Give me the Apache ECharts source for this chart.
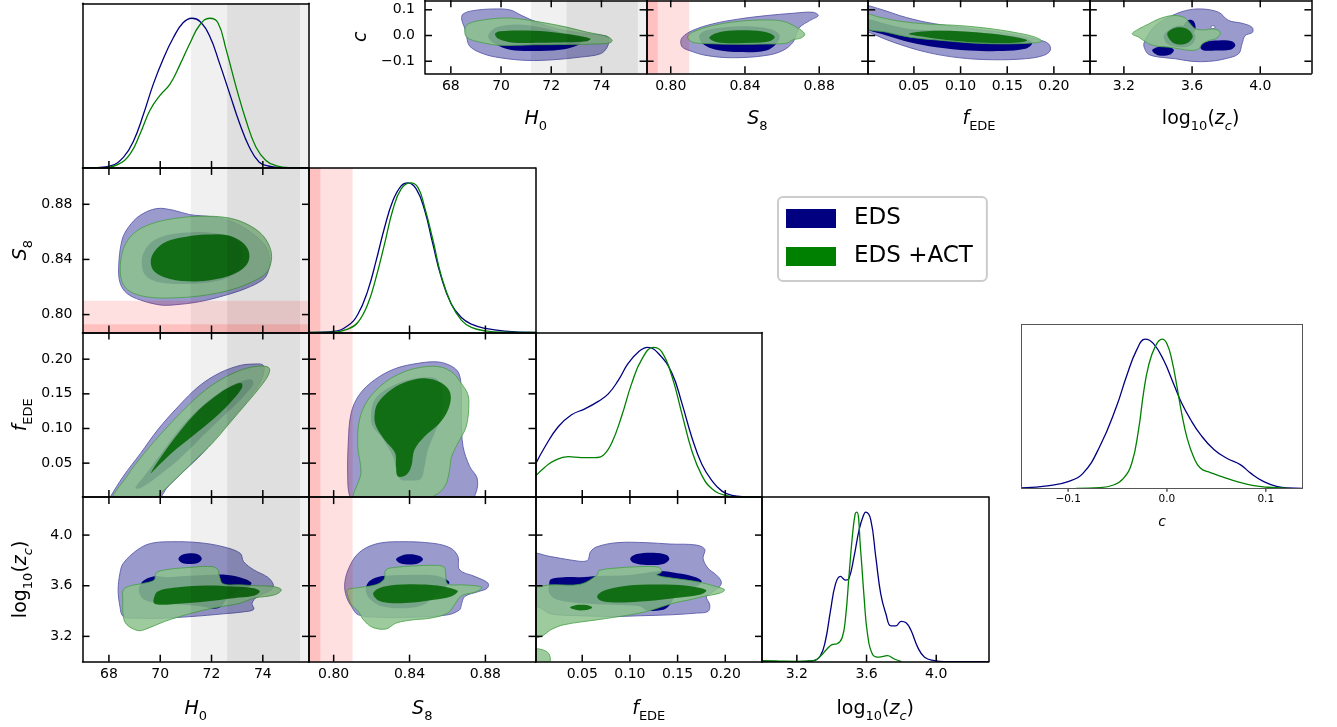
<!DOCTYPE html>
<html><head><meta charset="utf-8">
<script src="https://cdn.jsdelivr.net/npm/echarts@6/dist/echarts.min.js"></script>
<style>html,body{margin:0;padding:0;background:#fff}#c{width:1337px;height:727px}</style>
</head><body><div id="c"></div>
<script>
// ---------- axes ----------
const H0_RANGE = [66.97, 75.8];
const S8_RANGE = [0.787, 0.9064];
const FEDE_RANGE = [0.001, 0.2385];
const LOGZC_RANGE = [3.0, 4.30];
const C_RANGE = [-0.147, 0.137];
const H0_TICKS = [68, 70, 72, 74];
const S8_TICKS = [0.80, 0.84, 0.88];
const FEDE_TICKS = [0.05, 0.10, 0.15, 0.20];
const LOGZC_TICKS = [3.2, 3.6, 4.0];
const C_TICKS = [-0.1, 0.0, 0.1];
const H0_BAND_1S = [72.61, 75.45];
const H0_BAND_2S = [71.19, 76.87];
const S8_BAND_1S = [0.759, 0.793];
const S8_BAND_2S = [0.742, 0.810];
const SERIES_NAMES = ['EDS', 'EDS +ACT'];

const H0_EDS_1D = [[66.97,0],[67.54,0.002],[68.06,0.013],[68.57,0.072],[68.96,0.18],[69.35,0.36],[69.73,0.56],[70.12,0.73],[70.51,0.87],[70.89,0.97],[71.24,1.0],[71.54,0.98],[71.93,0.88],[72.31,0.70],[72.70,0.50],[73.09,0.30],[73.47,0.14],[73.86,0.038],[74.25,0.011],[74.76,0.002],[75.8,0]];
const H0_ACT_1D = [[66.97,0],[67.8,0.002],[68.32,0.02],[68.83,0.094],[69.22,0.23],[69.6,0.385],[69.99,0.485],[70.38,0.56],[70.77,0.69],[71.15,0.83],[71.54,0.955],[71.93,1.0],[72.25,0.97],[72.57,0.79],[72.96,0.54],[73.34,0.32],[73.73,0.14],[74.12,0.05],[74.5,0.016],[75.02,0.002],[75.8,0]];
const S8_EDS_1D = [[0.787,0],[0.7898,0.001],[0.80,0.007],[0.8074,0.045],[0.8127,0.12],[0.818,0.28],[0.8224,0.48],[0.8268,0.70],[0.8312,0.88],[0.8356,0.98],[0.8391,1.0],[0.8435,0.96],[0.8479,0.82],[0.8523,0.59],[0.8567,0.37],[0.862,0.19],[0.8673,0.10],[0.8726,0.056],[0.88,0.027],[0.8902,0.009],[0.9064,0]];
const S8_ACT_1D = [[0.787,0],[0.80,0.002],[0.8074,0.022],[0.8127,0.067],[0.818,0.19],[0.8224,0.37],[0.8268,0.59],[0.8312,0.82],[0.8356,0.96],[0.8405,1.0],[0.8444,0.97],[0.8479,0.84],[0.8523,0.62],[0.8567,0.38],[0.862,0.19],[0.8673,0.083],[0.8726,0.034],[0.88,0.011],[0.8902,0.002],[0.9064,0]];
const FEDE_EDS_1D = [[0.001,0.22],[0.0108,0.335],[0.0248,0.47],[0.0388,0.55],[0.0528,0.59],[0.0668,0.64],[0.0773,0.69],[0.0878,0.78],[0.0983,0.895],[0.1089,0.97],[0.1187,1.0],[0.1299,0.96],[0.1439,0.83],[0.1544,0.63],[0.1649,0.40],[0.1754,0.22],[0.186,0.11],[0.1965,0.04],[0.207,0.011],[0.221,0.002],[0.2385,0]];
const FEDE_ACT_1D = [[0.001,0.14],[0.0108,0.20],[0.0213,0.246],[0.0353,0.27],[0.0493,0.264],[0.0633,0.264],[0.0721,0.28],[0.0808,0.36],[0.0913,0.54],[0.1019,0.76],[0.1124,0.92],[0.1246,1.0],[0.1334,0.97],[0.1439,0.81],[0.1544,0.56],[0.1649,0.31],[0.1754,0.145],[0.186,0.056],[0.20,0.011],[0.214,0],[0.2385,0]];
const LOGZC_EDS_1D = [[3.0,0],[3.2,0],[3.296,0.007],[3.335,0.04],[3.364,0.14],[3.393,0.34],[3.422,0.52],[3.45,0.57],[3.48,0.545],[3.499,0.555],[3.528,0.70],[3.557,0.88],[3.58,0.97],[3.595,1.0],[3.624,0.95],[3.653,0.70],[3.682,0.45],[3.711,0.32],[3.74,0.24],[3.769,0.24],[3.798,0.27],[3.827,0.26],[3.855,0.21],[3.894,0.096],[3.933,0.03],[3.99,0.007],[4.048,0],[4.3,0]];
const LOGZC_ACT_1D = [[3.0,0.007],[3.1,0.004],[3.2,0.002],[3.296,0.007],[3.335,0.036],[3.373,0.085],[3.402,0.114],[3.431,0.12],[3.46,0.16],[3.48,0.30],[3.499,0.57],[3.518,0.83],[3.535,0.99],[3.545,1.0],[3.566,0.745],[3.586,0.43],[3.605,0.19],[3.634,0.05],[3.672,0.03],[3.72,0.04],[3.759,0.018],[3.80,0]];
const C_EDS_1D = [[-0.147,0.003],[-0.119,0.018],[-0.1,0.045],[-0.085,0.10],[-0.068,0.28],[-0.051,0.55],[-0.041,0.75],[-0.0305,0.93],[-0.022,1.0],[-0.0136,0.97],[-0.0034,0.86],[0.0068,0.70],[0.015,0.57],[0.024,0.46],[0.034,0.36],[0.0475,0.26],[0.061,0.20],[0.0746,0.157],[0.085,0.10],[0.098,0.045],[0.112,0.011],[0.122,0.002],[0.137,0]];
const C_ACT_1D = [[-0.092,0],[-0.068,0.004],[-0.054,0.022],[-0.044,0.067],[-0.0356,0.168],[-0.0288,0.39],[-0.0237,0.64],[-0.0187,0.82],[-0.0119,0.95],[-0.005,1.0],[0,0.97],[0.005,0.86],[0.0102,0.68],[0.015,0.50],[0.0203,0.34],[0.027,0.21],[0.034,0.134],[0.044,0.105],[0.0576,0.074],[0.071,0.045],[0.088,0.018],[0.102,0.007],[0.122,0]];

const H0S8_EDS_2 = [[68.38,0.8347],[68.51,0.854],[68.77,0.8636],[69.22,0.872],[69.86,0.8769],[70.51,0.8757],[71.15,0.8725],[72.05,0.8708],[72.83,0.8672],[73.60,0.8588],[74.12,0.8492],[74.27,0.8395],[74.18,0.8299],[73.99,0.8251],[73.34,0.819],[72.57,0.8142],[71.54,0.8094],[70.51,0.807],[69.99,0.807],[69.22,0.8106],[68.70,0.8154],[68.44,0.8227]];
const H0S8_EDS_1 = [[69.28,0.8371],[69.37,0.8455],[69.73,0.8535],[70.38,0.8581],[71.28,0.8598],[72.18,0.8588],[72.83,0.8559],[73.15,0.8492],[73.19,0.8407],[73.02,0.8323],[72.57,0.8263],[71.80,0.8231],[70.77,0.8222],[69.86,0.8239],[69.41,0.8287]];
const H0S8_ACT_2 = [[68.44,0.8323],[68.57,0.848],[68.96,0.8588],[69.60,0.8655],[70.51,0.8696],[71.54,0.8713],[72.57,0.8704],[73.34,0.866],[73.99,0.8576],[74.31,0.8467],[74.31,0.8371],[74.12,0.8299],[73.60,0.8239],[72.83,0.8183],[71.80,0.8142],[70.77,0.8123],[69.73,0.8123],[68.96,0.8154],[68.57,0.8214]];
const H0S8_ACT_1 = [[69.63,0.8383],[69.78,0.8460],[70.25,0.8530],[71.02,0.8565],[71.80,0.8580],[72.57,0.8578],[73.09,0.8540],[73.41,0.8478],[73.47,0.8407],[73.30,0.8347],[72.83,0.8290],[72.05,0.8252],[71.28,0.8240],[70.38,0.8258],[69.78,0.8311]];
const H0F_EDS_2 = [[68.05,0.001],[68.56,0.031],[69.23,0.064],[69.90,0.098],[70.71,0.132],[71.51,0.161],[72.31,0.180],[73.12,0.191],[73.65,0.193],[73.99,0.192],[74.05,0.185],[73.92,0.168],[73.52,0.146],[72.98,0.122],[72.31,0.093],[71.64,0.064],[70.97,0.040],[70.30,0.016],[69.83,-0.004],[68.0,-0.004]];
const H0F_EDS_1 = [[69.03,0.014],[69.37,0.031],[70.04,0.064],[70.84,0.103],[71.78,0.137],[72.58,0.158],[73.25,0.169],[73.58,0.170],[73.62,0.163],[73.12,0.141],[72.31,0.1125],[71.51,0.0837],[70.71,0.0548],[69.90,0.0308],[69.23,0.014]];
const H0F_ACT_2 = [[68.16,-0.004],[68.70,0.031],[69.37,0.064],[70.17,0.098],[70.97,0.129],[71.78,0.156],[72.58,0.175],[73.38,0.187],[73.99,0.190],[74.25,0.187],[74.21,0.177],[73.92,0.161],[73.38,0.137],[72.71,0.108],[72.04,0.079],[71.37,0.055],[70.71,0.031],[70.04,0.007],[69.77,-0.004]];
const H0F_ACT_1 = [[69.63,0.0356],[70.04,0.0596],[70.71,0.0933],[71.51,0.1269],[72.31,0.151],[72.98,0.1644],[73.18,0.165],[73.18,0.158],[72.71,0.1365],[72.04,0.1125],[71.24,0.0885],[70.44,0.0644],[69.83,0.0428]];
const S8F_EDS_2 = [[0.8083,0.004],[0.8074,0.031],[0.8077,0.079],[0.8092,0.122],[0.8136,0.149],[0.8215,0.170],[0.8321,0.186],[0.8444,0.194],[0.8550,0.196],[0.8620,0.190],[0.8659,0.180],[0.8673,0.156],[0.8673,0.1125],[0.8682,0.074],[0.8717,0.0452],[0.8756,0.0284],[0.8752,0.009],[0.8717,-0.004],[0.8109,-0.004]];
const S8F_EDS_1 = [[0.8197,0.1173],[0.8215,0.141],[0.8285,0.158],[0.8391,0.170],[0.8497,0.174],[0.8550,0.170],[0.8576,0.151],[0.8567,0.1173],[0.8532,0.0933],[0.8497,0.0692],[0.8479,0.045],[0.8461,0.028],[0.8409,0.025],[0.8347,0.028],[0.8312,0.060],[0.8250,0.0885],[0.8206,0.103]];
const S8F_ACT_2 = [[0.8109,-0.004],[0.8144,0.036],[0.8127,0.074],[0.8136,0.1125],[0.8180,0.141],[0.8268,0.166],[0.8373,0.182],[0.8479,0.189],[0.8567,0.1885],[0.8629,0.180],[0.8673,0.165],[0.8705,0.151],[0.8713,0.1365],[0.8699,0.103],[0.8655,0.079],[0.8620,0.058],[0.8611,0.040],[0.8585,0.016],[0.8514,0.001],[0.8373,-0.004]];
const S8F_ACT_1 = [[0.8215,0.1173],[0.8232,0.1365],[0.8303,0.156],[0.8391,0.168],[0.8479,0.1726],[0.8567,0.166],[0.8615,0.151],[0.8606,0.129],[0.8558,0.1077],[0.8479,0.0885],[0.8426,0.0692],[0.8409,0.045],[0.8382,0.033],[0.8338,0.031],[0.8329,0.045],[0.8324,0.0644],[0.8268,0.0837],[0.8224,0.103]];
const H0Z_EDS_2 = [[68.43,3.698],[68.56,3.777],[69.10,3.882],[69.63,3.934],[70.44,3.9475],[71.51,3.94],[72.45,3.908],[73.12,3.856],[73.25,3.79],[73.65,3.725],[74.19,3.667],[74.41,3.607],[74.32,3.567],[73.79,3.515],[73.58,3.462],[73.65,3.415],[73.38,3.397],[72.45,3.378],[71.24,3.357],[70.04,3.344],[69.10,3.344],[68.56,3.357],[68.43,3.436],[68.36,3.567]];
const H0Z_EDS_1A = [[69.23,3.612],[69.43,3.651],[69.83,3.677],[70.24,3.667],[70.97,3.677],[71.78,3.685],[72.45,3.688],[73.12,3.665],[73.55,3.625],[73.45,3.59],[72.98,3.554],[72.58,3.489],[72.38,3.436],[72.11,3.418],[71.78,3.431],[70.97,3.449],[70.04,3.462],[69.37,3.489],[69.17,3.554]];
const H0Z_EDS_1B = [[70.71,3.811],[70.84,3.843],[71.15,3.856],[71.44,3.85],[71.62,3.816],[71.48,3.782],[71.15,3.772],[70.84,3.782]];
const H0Z_ACT_2 = [[68.56,3.567],[68.83,3.599],[69.37,3.62],[69.77,3.646],[69.83,3.698],[70.17,3.725],[71.24,3.746],[72.04,3.751],[72.25,3.725],[72.30,3.68],[72.45,3.615],[73.12,3.607],[73.79,3.600],[74.46,3.592],[74.72,3.567],[74.46,3.528],[73.65,3.502],[73.12,3.462],[72.04,3.423],[71.24,3.384],[70.17,3.318],[69.37,3.252],[69.10,3.247],[68.70,3.292],[68.56,3.357],[68.54,3.489]];
const H0Z_ACT_1 = [[69.74,3.49],[69.90,3.555],[70.71,3.588],[71.78,3.601],[72.85,3.593],[73.65,3.580],[73.88,3.554],[73.65,3.52],[72.85,3.502],[71.78,3.475],[70.71,3.457],[70.04,3.449],[69.77,3.46]];
const S8Z_EDS_2 = [[0.8058,3.607],[0.8076,3.725],[0.813,3.856],[0.8221,3.929],[0.8348,3.9475],[0.8529,3.934],[0.8619,3.895],[0.8655,3.83],[0.8664,3.725],[0.8746,3.672],[0.8814,3.62],[0.8809,3.58],[0.8764,3.554],[0.8691,3.515],[0.8673,3.449],[0.8664,3.41],[0.8601,3.37],[0.842,3.352],[0.8239,3.352],[0.813,3.37],[0.8094,3.436],[0.8067,3.515]];
const S8Z_EDS_1A = [[0.8176,3.612],[0.8203,3.651],[0.8257,3.677],[0.8384,3.685],[0.851,3.685],[0.8574,3.665],[0.861,3.625],[0.8583,3.58],[0.8529,3.515],[0.8474,3.449],[0.8384,3.423],[0.8257,3.436],[0.8194,3.489],[0.817,3.554]];
const S8Z_EDS_1B = [[0.8329,3.809],[0.8357,3.837],[0.8402,3.848],[0.8453,3.835],[0.8471,3.809],[0.8447,3.777],[0.8402,3.767],[0.8351,3.777]];
const S8Z_ACT_2 = [[0.8072,3.567],[0.813,3.585],[0.8221,3.607],[0.8266,3.651],[0.8275,3.725],[0.8329,3.746],[0.842,3.756],[0.8547,3.761],[0.8583,3.746],[0.8590,3.70],[0.8600,3.615],[0.8673,3.607],[0.8746,3.60],[0.8782,3.585],[0.8746,3.55],[0.8673,3.52],[0.8637,3.449],[0.8601,3.384],[0.851,3.344],[0.842,3.331],[0.8329,3.305],[0.8275,3.258],[0.8203,3.273],[0.8157,3.331],[0.813,3.397],[0.8094,3.449],[0.8076,3.515]];
const S8Z_ACT_1 = [[0.8208,3.536],[0.8239,3.58],[0.8329,3.607],[0.842,3.612],[0.8547,3.601],[0.8637,3.572],[0.8655,3.554],[0.8619,3.515],[0.8529,3.489],[0.842,3.468],[0.8311,3.462],[0.8239,3.481]];
const FZ_EDS_2 = [[-0.004,3.843],[0.017,3.83],[0.0378,3.803],[0.0552,3.798],[0.0587,3.869],[0.0656,3.908],[0.0865,3.94],[0.1177,3.94],[0.142,3.929],[0.1698,3.921],[0.1785,3.887],[0.1767,3.816],[0.1819,3.738],[0.1906,3.685],[0.1958,3.633],[0.1941,3.593],[0.1872,3.554],[0.1802,3.515],[0.1837,3.449],[0.1819,3.397],[0.1698,3.384],[0.142,3.37],[0.1108,3.363],[0.083,3.357],[0.0483,3.363],[0.017,3.378],[0.0066,3.423],[-0.004,3.462]];
const FZ_EDS_1A = [[0.0153,3.607],[0.017,3.651],[0.0309,3.667],[0.0483,3.667],[0.0656,3.677],[0.1003,3.685],[0.1316,3.716],[0.1455,3.705],[0.1628,3.68],[0.175,3.64],[0.1715,3.60],[0.1594,3.58],[0.149,3.541],[0.142,3.449],[0.1351,3.41],[0.1177,3.405],[0.1108,3.436],[0.083,3.449],[0.0483,3.462],[0.024,3.489],[0.0153,3.541]];
const FZ_EDS_1B = [[0.1003,3.816],[0.1073,3.85],[0.1247,3.861],[0.1385,3.843],[0.1413,3.809],[0.1351,3.772],[0.1177,3.764],[0.1038,3.782]];
const FZ_ACT_2A = [[-0.004,3.567],[0.0066,3.593],[0.017,3.607],[0.0483,3.612],[0.0656,3.685],[0.0674,3.719],[0.083,3.738],[0.1108,3.751],[0.1299,3.746],[0.1333,3.711],[0.1281,3.685],[0.1455,3.659],[0.1698,3.633],[0.1906,3.593],[0.1993,3.567],[0.1941,3.541],[0.1767,3.515],[0.1628,3.489],[0.1455,3.462],[0.1177,3.397],[0.1003,3.37],[0.0656,3.331],[0.0309,3.292],[0.017,3.252],[0.0101,3.213],[0.0031,3.19],[-0.004,3.19]];
const FZ_ACT_2B = [[-0.004,3.095],[0.008,3.095],[0.0153,3.06],[0.0153,2.99],[-0.004,2.99]];
const FZ_ACT_1A = [[0.0656,3.515],[0.0708,3.554],[0.0865,3.588],[0.1108,3.607],[0.1455,3.607],[0.1698,3.588],[0.1802,3.562],[0.1733,3.528],[0.1455,3.502],[0.1108,3.475],[0.083,3.468],[0.0691,3.484]];
const FZ_ACT_1B = [[0.0372,3.428],[0.043,3.446],[0.0483,3.45],[0.056,3.445],[0.0604,3.428],[0.056,3.41],[0.0483,3.405],[0.043,3.41]];
const H0C_EDS_2 = [[68.43,0.0645],[68.49,0.0839],[68.89,0.0968],[69.69,0.1032],[70.36,0.0994],[70.83,0.0774],[71.43,0.0516],[72.23,0.0258],[73.43,0.0065],[74.09,0],[74.29,-0.009],[74.23,-0.0452],[73.96,-0.071],[73.16,-0.0839],[72.09,-0.0942],[71.03,-0.0968],[69.96,-0.0865],[69.29,-0.071],[68.76,-0.0426],[68.63,-0.0065],[68.56,0.0258]];
const H0C_EDS_1 = [[69.56,0.0129],[69.83,0.0323],[70.63,0.0426],[71.56,0.0323],[72.36,0.0129],[73.03,-0.0039],[73.23,-0.0194],[73.03,-0.0387],[72.36,-0.0555],[71.29,-0.0606],[70.36,-0.0555],[69.76,-0.0323],[69.49,-0.0065]];
const H0C_ACT_2 = [[68.56,0.0258],[68.69,0.0452],[69.29,0.0606],[70.23,0.0684],[71.03,0.0606],[71.83,0.0477],[72.63,0.0323],[73.43,0.0129],[74.23,-0.0039],[74.43,-0.0194],[74.29,-0.0297],[73.56,-0.0335],[72.63,-0.035],[71.29,-0.036],[69.96,-0.038],[69.16,-0.0258],[68.63,-0.0065]];
const H0C_ACT_1 = [[69.76,0.0065],[69.96,0.0168],[71.03,0.0194],[72.09,0.0129],[73.03,0],[73.56,-0.0129],[73.43,-0.0219],[72.63,-0.0258],[71.56,-0.028],[70.49,-0.028],[69.89,-0.0129]];
const S8C_EDS_2 = [[0.8054,-0.0258],[0.8063,-0.0065],[0.8117,0.0194],[0.8226,0.0452],[0.837,0.0645],[0.8515,0.0774],[0.8659,0.0865],[0.8767,0.0903],[0.8795,0.0774],[0.8749,0.0581],[0.8695,0.0323],[0.8677,0.0065],[0.8659,-0.0258],[0.8605,-0.0581],[0.8515,-0.0774],[0.8334,-0.0865],[0.819,-0.0774],[0.8099,-0.0581],[0.8063,-0.0452]];
const S8C_EDS_1 = [[0.8154,0],[0.819,0.0194],[0.8298,0.0323],[0.8442,0.0348],[0.8551,0.0219],[0.8587,0],[0.8569,-0.0323],[0.8515,-0.0581],[0.837,-0.0645],[0.8244,-0.0555],[0.8172,-0.0323]];
const S8C_ACT_2 = [[0.809,-0.0065],[0.8117,0.0129],[0.8226,0.0387],[0.837,0.0555],[0.8515,0.0606],[0.8605,0.0555],[0.8677,0.0323],[0.8722,0.0065],[0.8704,-0.009],[0.8659,-0.0168],[0.8623,-0.030],[0.8515,-0.033],[0.8334,-0.034],[0.819,-0.031],[0.8117,-0.0258]];
const S8C_ACT_1 = [[0.8208,-0.009],[0.8244,0.009],[0.8334,0.0194],[0.8442,0.0194],[0.8533,0.009],[0.856,-0.0065],[0.8533,-0.0219],[0.8442,-0.0285],[0.8334,-0.030],[0.8244,-0.025]];
const FC_EDS_2 = [[-0.004,0.1123],[0.0135,0.1032],[0.0348,0.0774],[0.0631,0.0516],[0.0986,0.0323],[0.134,0.0168],[0.1624,0],[0.1837,-0.0168],[0.1943,-0.0323],[0.1961,-0.0581],[0.189,-0.0774],[0.1695,-0.0903],[0.134,-0.0942],[0.0986,-0.0865],[0.0631,-0.0645],[0.0277,-0.0258],[0.006,0.0065],[-0.004,0.0258]];
const FC_EDS_1 = [[-0.004,0.0645],[0.0206,0.0452],[0.0454,0.0258],[0.0809,0.0194],[0.1163,0.0129],[0.1518,0],[0.173,-0.0168],[0.1766,-0.0323],[0.1695,-0.0516],[0.1447,-0.0606],[0.1092,-0.0581],[0.0738,-0.0452],[0.0454,-0.0258],[0.0206,0],[-0.004,0.0323]];
const FC_ACT_2 = [[-0.004,0.0839],[0.0135,0.071],[0.0348,0.0555],[0.0631,0.0452],[0.0986,0.0387],[0.134,0.0258],[0.1624,0.009],[0.1801,-0.0065],[0.1872,-0.0219],[0.1801,-0.0284],[0.1518,-0.0323],[0.1163,-0.0297],[0.0809,-0.0194],[0.0454,-0.0065],[0.0206,0.0129],[-0.004,0.0323]];
const FC_ACT_1 = [[0.0454,0.009],[0.0631,0.0168],[0.0986,0.0168],[0.134,0.0065],[0.1624,-0.009],[0.1713,-0.0194],[0.1624,-0.027],[0.134,-0.029],[0.0986,-0.0219],[0.0631,-0.0065],[0.0454,0.0039]];
const ZC_EDS_2 = [[3.317,-0.0323],[3.346,0.0065],[3.385,0.0387],[3.463,0.071],[3.561,0.0968],[3.659,0.1032],[3.756,0.0903],[3.815,0.0581],[3.893,0.0477],[3.951,0.0323],[3.955,0.0129],[3.912,0],[3.893,-0.0323],[3.873,-0.071],[3.795,-0.0903],[3.698,-0.1006],[3.6,-0.1006],[3.502,-0.0903],[3.405,-0.0839],[3.346,-0.0735],[3.327,-0.0581]];
const ZC_EDS_HOLE = [[3.71,0.032],[3.72,0.038],[3.735,0.035],[3.73,0.028],[3.715,0.027]];
const ZC_EDS_1A = [[3.366,-0.0581],[3.395,-0.0452],[3.454,-0.0426],[3.493,-0.0555],[3.473,-0.0735],[3.405,-0.0774]];
const ZC_EDS_1B = [[3.649,-0.0452],[3.678,-0.0258],[3.756,-0.0194],[3.834,-0.0219],[3.854,-0.0387],[3.824,-0.0555],[3.737,-0.0581],[3.668,-0.0581]];
const ZC_EDS_1C = [[3.551,0.0387],[3.58,0.0606],[3.61,0.0555],[3.62,0.0258],[3.6,0.0065],[3.571,0.0129]];
const ZC_EDS_1D = [[3.434,0],[3.473,0.0258],[3.532,0.0387],[3.59,0.0258],[3.62,-0.0065],[3.59,-0.0387],[3.522,-0.0452],[3.454,-0.0323]];
const ZC_ACT_2 = [[3.249,0.0065],[3.288,0.0258],[3.346,0.0452],[3.405,0.0645],[3.483,0.0774],[3.551,0.071],[3.59,0.0452],[3.62,0.0258],[3.678,0.0219],[3.717,0.0258],[3.756,0.0194],[3.766,0.0065],[3.737,-0.0129],[3.698,-0.0194],[3.659,-0.0323],[3.639,-0.0516],[3.6,-0.0581],[3.522,-0.0516],[3.463,-0.0452],[3.405,-0.0426],[3.346,-0.0323],[3.288,-0.0065]];
const ZC_ACT_1 = [[3.454,0.0065],[3.483,0.0258],[3.532,0.0323],[3.58,0.0219],[3.604,-0.0039],[3.58,-0.0258],[3.532,-0.0348],[3.483,-0.0258]];

const FONT = 'DejaVu Sans';
const COL_EDS_LINE = '#000080', COL_ACT_LINE = '#008000';
const COL_EDS_OUT = '#9a9acd', COL_EDS_OUT_EDGE = '#5c5cab', COL_EDS_IN = '#000080';
const COL_ACT_OUT = 'rgba(140,194,140,0.85)', COL_ACT_OUT_EDGE = 'rgba(70,160,70,0.9)', COL_ACT_IN = 'rgba(0,100,0,0.85)';
const COL_GRAY = 'rgba(0,0,0,0.06)', COL_GRAY_1S = 'rgba(0,0,0,0.075)';
const COL_RED = 'rgba(255,0,0,0.12)', COL_RED_1S = 'rgba(255,0,0,0.145)';

function mkRich(big, small) {
  const b = {fontFamily: FONT, fontSize: big, lineHeight: Math.round(big * 1.45), verticalAlign: 'middle', color: '#000'};
  const s = {fontFamily: FONT, fontSize: small, lineHeight: small, verticalAlign: 'bottom', color: '#000'};
  return {n: b, i: Object.assign({}, b, {fontStyle: 'italic'}), s: s, si: Object.assign({}, s, {fontStyle: 'italic'})};
}
const RICH = mkRich(19, 13);
const RICH_SMALL = mkRich(14, 10);
const NAME_H0 = '{i|H}{s|0}', NAME_S8 = '{i|S}{s|8}', NAME_FEDE = '{i|f}{s|EDE}';
const NAME_LOGZC = '{n|log}{s|10}{n|(}{i|z}{si|c}{n|)}', NAME_C = '{i|c}';
const fmt0 = v => v.toFixed(0), fmt1 = v => (v < -1e-9 ? '\u2212' : '') + Math.abs(v).toFixed(1), fmt2 = v => v.toFixed(2);

const option = {animation: false, grid: [], xAxis: [], yAxis: [], series: []};
const TICK_JOBS = [];

function panel(rect, xr, yr, o) {
  const gi = option.grid.length;
  option.grid.push({left: rect[0], top: rect[1], width: rect[2] - rect[0], height: rect[3] - rect[1]});
  const fc = o.frame || '#000', fw = o.fw || 1.5;
  function ax(pos, range, ticks, labOn, fmt, name, gap, isY) {
    const a = {gridIndex: gi, type: 'value', position: pos, min: range[0], max: range[1], z: 10,
      axisLine: {show: true, onZero: false, lineStyle: {color: fc, width: fw}},
      axisTick: {show: false},
      axisLabel: {show: !!(labOn && ticks), color: '#000', fontFamily: FONT, fontSize: o.fs || 14, margin: o.lm || (isY ? 10 : 6), formatter: fmt},
      splitLine: {show: false}, axisPointer: {show: false}};
    if (ticks) { a.axisLabel.customValues = ticks; }
    if (name) Object.assign(a, {name: name, nameLocation: 'middle', nameGap: gap, nameRotate: isY ? 90 : 0,
      nameTextStyle: {rich: o.rich || RICH, color: '#000'}});
    return a;
  }
  const xi = option.xAxis.length, yi = option.yAxis.length;
  option.xAxis.push(ax('bottom', xr, o.xt, o.xl, o.xf, o.xn, o.xg, false));
  option.xAxis.push(ax('top', xr, o.xt, false, null, null, 0, false));
  option.yAxis.push(ax('left', yr, o.yt, o.yl, o.yf, o.yn, o.yg, true));
  option.yAxis.push(ax('right', yr, o.yt, false, null, null, 0, true));
  const axr = {x: xi, y: yi, xr: xr, yr: yr};
  TICK_JOBS.push({ax: axr, rect: rect, o: o});
  return axr;
}
function poly(ax, name, pts, fill, edge) {
  option.series.push({type: 'custom', name: name, xAxisIndex: ax.x, yAxisIndex: ax.y, z: 2, silent: true,
    data: pts, encode: {x: 0, y: 1},
    renderItem: function (params, api) {
      if (params.dataIndex !== 0) return null;
      const cs = params.coordSys;
      return {type: 'polygon', shape: {points: pts.map(p => api.coord(p)), smooth: 0.35},
        style: {fill: fill, stroke: edge || null, lineWidth: edge ? 0.9 : 0},
        clipPath: {type: 'rect', shape: {x: cs.x, y: cs.y, width: cs.width, height: cs.height}}};
    }});
}
function band(ax, b, dir, color) {
  option.series.push({type: 'custom', xAxisIndex: ax.x, yAxisIndex: ax.y, z: 3, silent: true, data: [b],
    renderItem: function (params, api) {
      const cs = params.coordSys;
      let r;
      if (dir === 'v') {
        const a = api.coord([b[0], ax.yr[0]])[0], c = api.coord([b[1], ax.yr[0]])[0];
        r = {x: Math.min(a, c), y: cs.y, width: Math.abs(c - a), height: cs.height};
      } else {
        const a = api.coord([ax.xr[0], b[0]])[1], c = api.coord([ax.xr[0], b[1]])[1];
        r = {x: cs.x, y: Math.min(a, c), width: cs.width, height: Math.abs(c - a)};
      }
      return {type: 'rect', shape: r, style: {fill: color},
        clipPath: {type: 'rect', shape: {x: cs.x, y: cs.y, width: cs.width, height: cs.height}}};
    }});
}
function line(ax, data, color) {
  option.series.push({type: 'line', xAxisIndex: ax.x, yAxisIndex: ax.y, data: data, smooth: 0.45,
    showSymbol: false, symbol: 'none', lineStyle: {color: color, width: 1.3}, itemStyle: {color: color}, z: 4, silent: true});
}
function contours(ax, c) {
  c.eds2.forEach(p => poly(ax, SERIES_NAMES[0], p, COL_EDS_OUT, COL_EDS_OUT_EDGE));
  (c.hole || []).forEach(p => poly(ax, SERIES_NAMES[0], p, '#ffffff', COL_EDS_OUT_EDGE));
  c.eds1.forEach(p => poly(ax, SERIES_NAMES[0], p, COL_EDS_IN, null));
  c.act2.forEach(p => poly(ax, SERIES_NAMES[1], p, COL_ACT_OUT, COL_ACT_OUT_EDGE));
  c.act1.forEach(p => poly(ax, SERIES_NAMES[1], p, COL_ACT_IN, null));
}
function h0Bands(ax) { band(ax, H0_BAND_2S, 'v', COL_GRAY); band(ax, H0_BAND_1S, 'v', COL_GRAY_1S); }
function s8Bands(ax, dir) { band(ax, S8_BAND_2S, dir, COL_RED); band(ax, S8_BAND_1S, dir, COL_RED_1S); }

const P = [
  {r: H0_RANGE, t: H0_TICKS, f: fmt0, n: NAME_H0, eds: H0_EDS_1D, act: H0_ACT_1D},
  {r: S8_RANGE, t: S8_TICKS, f: fmt2, n: NAME_S8, eds: S8_EDS_1D, act: S8_ACT_1D},
  {r: FEDE_RANGE, t: FEDE_TICKS, f: fmt2, n: NAME_FEDE, eds: FEDE_EDS_1D, act: FEDE_ACT_1D},
  {r: LOGZC_RANGE, t: LOGZC_TICKS, f: fmt1, n: NAME_LOGZC, eds: LOGZC_EDS_1D, act: LOGZC_ACT_1D}
];
const CONT = {
  '0_1': {eds2: [H0S8_EDS_2], eds1: [H0S8_EDS_1], act2: [H0S8_ACT_2], act1: [H0S8_ACT_1]},
  '0_2': {eds2: [H0F_EDS_2], eds1: [H0F_EDS_1], act2: [H0F_ACT_2], act1: [H0F_ACT_1]},
  '1_2': {eds2: [S8F_EDS_2], eds1: [S8F_EDS_1], act2: [S8F_ACT_2], act1: [S8F_ACT_1]},
  '0_3': {eds2: [H0Z_EDS_2], eds1: [H0Z_EDS_1A, H0Z_EDS_1B], act2: [H0Z_ACT_2], act1: [H0Z_ACT_1]},
  '1_3': {eds2: [S8Z_EDS_2], eds1: [S8Z_EDS_1A, S8Z_EDS_1B], act2: [S8Z_ACT_2], act1: [S8Z_ACT_1]},
  '2_3': {eds2: [FZ_EDS_2], eds1: [FZ_EDS_1A, FZ_EDS_1B], act2: [FZ_ACT_2A, FZ_ACT_2B], act1: [FZ_ACT_1A, FZ_ACT_1B]}
};
const TOP_CONT = [
  {eds2: [H0C_EDS_2], eds1: [H0C_EDS_1], act2: [H0C_ACT_2], act1: [H0C_ACT_1]},
  {eds2: [S8C_EDS_2], eds1: [S8C_EDS_1], act2: [S8C_ACT_2], act1: [S8C_ACT_1]},
  {eds2: [FC_EDS_2], eds1: [FC_EDS_1], act2: [FC_ACT_2], act1: [FC_ACT_1]},
  {eds2: [ZC_EDS_2], hole: [ZC_EDS_HOLE], eds1: [ZC_EDS_1D, ZC_EDS_1A, ZC_EDS_1B, ZC_EDS_1C], act2: [ZC_ACT_2], act1: [ZC_ACT_1]}
];

const colX = [82.5, 309, 535.5, 762, 988.5];
const rowY = [3.3, 167.9, 332.5, 497.1, 661.7];
const topX = [425, 646.6, 868.2, 1089.8, 1311.4];
const topY = [0.3, 73.3];
const Y1D = [0, 1.1];

for (let r = 0; r < 4; r++) {
  for (let c = 0; c <= r; c++) {
    const rect = [colX[c], rowY[r], colX[c + 1], rowY[r + 1]];
    const bottom = r === 3;
    if (r === c) {
      const ax = panel(rect, P[c].r, Y1D, {xt: P[c].t, xl: bottom, xf: P[c].f, xn: bottom ? P[c].n : null, xg: 33,
        topTicks: false, yTicks: false, yl: false});
      if (c === 0) h0Bands(ax);
      if (c === 1) s8Bands(ax, 'v');
      line(ax, P[c].eds, COL_EDS_LINE);
      line(ax, P[c].act, COL_ACT_LINE);
    } else {
      const ax = panel(rect, P[c].r, P[r].r, {xt: P[c].t, xl: bottom, xf: P[c].f, xn: bottom ? P[c].n : null, xg: 33,
        topTicks: true, yt: P[r].t, yTicks: true, yl: c === 0, yf: P[r].f, yn: c === 0 ? P[r].n : null, yg: 47});
      contours(ax, CONT[c + '_' + r]);
      if (c === 0) h0Bands(ax);
      if (c === 1) s8Bands(ax, 'v');
      if (r === 1) s8Bands(ax, 'h');
    }
  }
}
for (let i = 0; i < 4; i++) {
  const rect = [topX[i], topY[0], topX[i + 1], topY[1]];
  const ax = panel(rect, P[i].r, C_RANGE, {xt: P[i].t, xl: true, xf: P[i].f, xn: P[i].n, xg: 32,
    topTicks: true, yt: C_TICKS, yTicks: true, yl: i === 0, yf: fmt1, yn: i === 0 ? NAME_C : null, yg: 50});
  contours(ax, TOP_CONT[i]);
  if (i === 0) h0Bands(ax);
  if (i === 1) s8Bands(ax, 'v');
}
{
  const ax = panel([1021.7, 324.3, 1302.3, 488.3], C_RANGE, Y1D, {xt: C_TICKS, xl: true, xf: fmt1, xn: NAME_C, xg: 24,
    topTicks: false, yTicks: false, yl: false, frame: '#555', fw: 1, outTicks: true, tl: 3.5, fs: 10.5, lm: 5, rich: RICH_SMALL});
  line(ax, C_EDS_1D, COL_EDS_LINE);
  line(ax, C_ACT_1D, COL_ACT_LINE);
}

option.legend = {show: true, orient: 'vertical', left: 778, top: 197, itemWidth: 50, itemHeight: 19, itemGap: 15,
  padding: [10, 14, 13, 8], borderColor: '#cccccc', borderWidth: 2, borderRadius: 5, backgroundColor: '#fff',
  selectedMode: false, textStyle: {fontFamily: FONT, fontSize: 23, color: '#000', lineHeight: 19, padding: [0, 0, 0, 13]},
  data: [{name: SERIES_NAMES[0], icon: 'rect', itemStyle: {color: COL_EDS_LINE, borderWidth: 0}},
         {name: SERIES_NAMES[1], icon: 'rect', itemStyle: {color: COL_ACT_LINE, borderWidth: 0}}]};

const chart = echarts.init(document.getElementById('c'), null, {renderer: 'canvas'});
chart.setOption(option);

// tick marks positioned through the chart's own axis scales
try {
  const els = [];
  TICK_JOBS.forEach(job => {
    const o = job.o, ax = job.ax, rc = job.rect;
    const L = o.tl || 7, w = 1.5, col = o.frame || '#000';
    const finder = {gridIndex: option.xAxis[ax.x].gridIndex};
    const push = (x, y, wd, ht) => els.push({type: 'rect', z: 100, silent: true,
      shape: {x: x, y: y, width: wd, height: ht}, style: {fill: col}});
    (o.xt || []).forEach(v => {
      const px = chart.convertToPixel(finder, [v, ax.yr[0]])[0];
      if (o.outTicks) push(px - w / 2, rc[3], w, L); else push(px - w / 2, rc[3] - L, w, L);
      if (o.topTicks) push(px - w / 2, rc[1], w, L);
    });
    if (o.yTicks) (o.yt || []).forEach(v => {
      const py = chart.convertToPixel(finder, [ax.xr[0], v])[1];
      push(rc[0], py - w / 2, L, w);
      push(rc[2] - L, py - w / 2, L, w);
    });
  });
  chart.setOption({graphic: els});
} catch (e) { /* ticks are decorative */ }
</script></body></html>
